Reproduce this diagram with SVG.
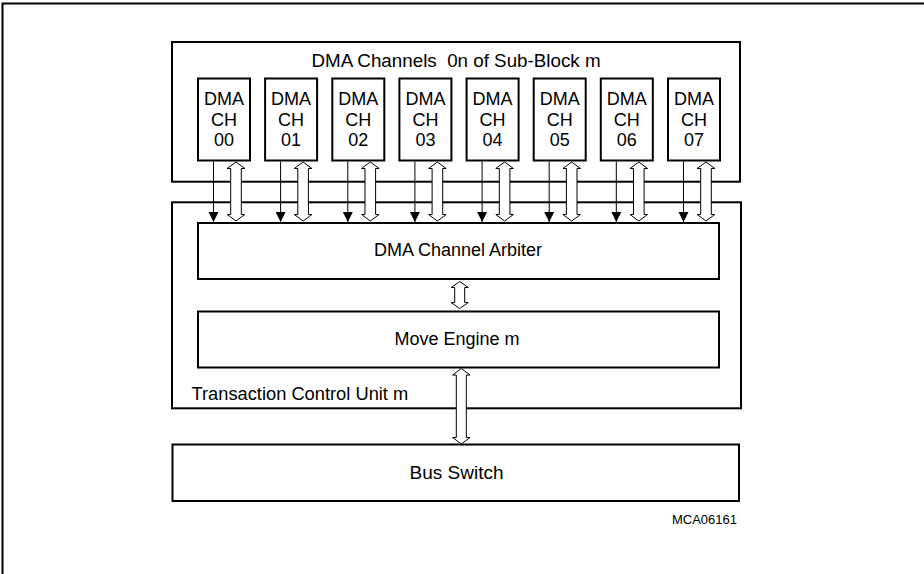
<svg xmlns="http://www.w3.org/2000/svg" width="924" height="574" viewBox="0 0 924 574">
<style>
.box{fill:#fff;stroke:#000;stroke-width:2}
.t{font-family:"Liberation Sans",Arial,sans-serif;font-size:18px;fill:#000}
.c{text-anchor:middle}
.ln{stroke:#000;stroke-width:1;fill:none}
.ha{fill:#fff;stroke:#000;stroke-width:1}
</style>
<defs>
<marker id="ah" markerUnits="userSpaceOnUse" markerWidth="12" markerHeight="12" viewBox="0 0 12 12" refX="11" refY="6" orient="auto">
<path d="M1,1 L11,6 L1,11 Z" fill="#000"/>
</marker>
<path id="hz" class="ha" d="M0,0 L8.8,6.5 L5.3,6.5 L5.3,52.5 L8.8,52.5 L0,59 L-8.8,52.5 L-5.3,52.5 L-5.3,6.5 L-8.8,6.5 Z"/>
</defs>
<rect x="2.5" y="3.5" width="1000" height="1000" fill="none" stroke="#000" stroke-width="2"/>

<g id="sub-block">
<rect class="box" x="172" y="42" width="568" height="139.7"/>
<text class="t c" x="456" y="67" xml:space="preserve" style="white-space:pre;font-size:18.8px">DMA Channels  0n of Sub-Block m</text>
</g>
<g id="tcu">
<rect class="box" x="172" y="202.3" width="569" height="206"/>
<text class="t" x="191.5" y="400" style="font-size:18.3px">Transaction Control Unit m</text>
</g>

<g id="ch00"><rect class="box" x="198" y="78.5" width="52" height="82"/><text class="t c" x="224" y="105">DMA</text><text class="t c" x="224" y="125.5">CH</text><text class="t c" x="224" y="146">00</text></g>
<g id="ch01"><rect class="box" x="265.1" y="78.5" width="52" height="82"/><text class="t c" x="291.1" y="105">DMA</text><text class="t c" x="291.1" y="125.5">CH</text><text class="t c" x="291.1" y="146">01</text></g>
<g id="ch02"><rect class="box" x="332.3" y="78.5" width="52" height="82"/><text class="t c" x="358.3" y="105">DMA</text><text class="t c" x="358.3" y="125.5">CH</text><text class="t c" x="358.3" y="146">02</text></g>
<g id="ch03"><rect class="box" x="399.4" y="78.5" width="52" height="82"/><text class="t c" x="425.4" y="105">DMA</text><text class="t c" x="425.4" y="125.5">CH</text><text class="t c" x="425.4" y="146">03</text></g>
<g id="ch04"><rect class="box" x="466.6" y="78.5" width="52" height="82"/><text class="t c" x="492.6" y="105">DMA</text><text class="t c" x="492.6" y="125.5">CH</text><text class="t c" x="492.6" y="146">04</text></g>
<g id="ch05"><rect class="box" x="533.7" y="78.5" width="52" height="82"/><text class="t c" x="559.7" y="105">DMA</text><text class="t c" x="559.7" y="125.5">CH</text><text class="t c" x="559.7" y="146">05</text></g>
<g id="ch06"><rect class="box" x="600.8" y="78.5" width="52" height="82"/><text class="t c" x="626.8" y="105">DMA</text><text class="t c" x="626.8" y="125.5">CH</text><text class="t c" x="626.8" y="146">06</text></g>
<g id="ch07"><rect class="box" x="668" y="78.5" width="52" height="82"/><text class="t c" x="694" y="105">DMA</text><text class="t c" x="694" y="125.5">CH</text><text class="t c" x="694" y="146">07</text></g>

<g id="arbiter">
<rect class="box" x="198" y="223" width="521" height="56"/>
<text class="t c" x="458" y="256">DMA Channel Arbiter</text>
</g>
<g id="move-engine">
<rect class="box" x="198" y="311.5" width="521" height="56"/>
<text class="t c" x="457" y="345">Move Engine m</text>
</g>
<g id="bus-switch">
<rect class="box" x="172.5" y="444.5" width="566.5" height="56.5"/>
<text class="t c" x="456.5" y="479" style="font-size:19px">Bus Switch</text>
</g>
<g id="label">
<text class="t" x="737" y="524" text-anchor="end" style="font-size:13px">MCA06161</text>
</g>

<g id="connectors">
<line class="ln" x1="213.5" y1="161.5" x2="213.5" y2="222" marker-end="url(#ah)"/>
<line class="ln" x1="280.6" y1="161.5" x2="280.6" y2="222" marker-end="url(#ah)"/>
<line class="ln" x1="347.8" y1="161.5" x2="347.8" y2="222" marker-end="url(#ah)"/>
<line class="ln" x1="414.9" y1="161.5" x2="414.9" y2="222" marker-end="url(#ah)"/>
<line class="ln" x1="482.1" y1="161.5" x2="482.1" y2="222" marker-end="url(#ah)"/>
<line class="ln" x1="549.2" y1="161.5" x2="549.2" y2="222" marker-end="url(#ah)"/>
<line class="ln" x1="616.3" y1="161.5" x2="616.3" y2="222" marker-end="url(#ah)"/>
<line class="ln" x1="683.5" y1="161.5" x2="683.5" y2="222" marker-end="url(#ah)"/>
<use href="#hz" x="236" y="162"/>
<use href="#hz" x="303.1" y="162"/>
<use href="#hz" x="370.3" y="162"/>
<use href="#hz" x="437.4" y="162"/>
<use href="#hz" x="504.6" y="162"/>
<use href="#hz" x="571.7" y="162"/>
<use href="#hz" x="638.8" y="162"/>
<use href="#hz" x="706" y="162"/>
<path class="ha" d="M459.7,281.5 L468.3,287.5 L464.7,287.5 L464.7,302.5 L468.3,302.5 L459.7,308.5 L451.1,302.5 L454.7,302.5 L454.7,287.5 L451.1,287.5 Z"/>
<path class="ha" d="M461.3,368.5 L470,375 L466.3,375 L466.3,437.5 L470,437.5 L461.3,444 L452.6,437.5 L456.3,437.5 L456.3,375 L452.6,375 Z"/>
</g>
</svg>
